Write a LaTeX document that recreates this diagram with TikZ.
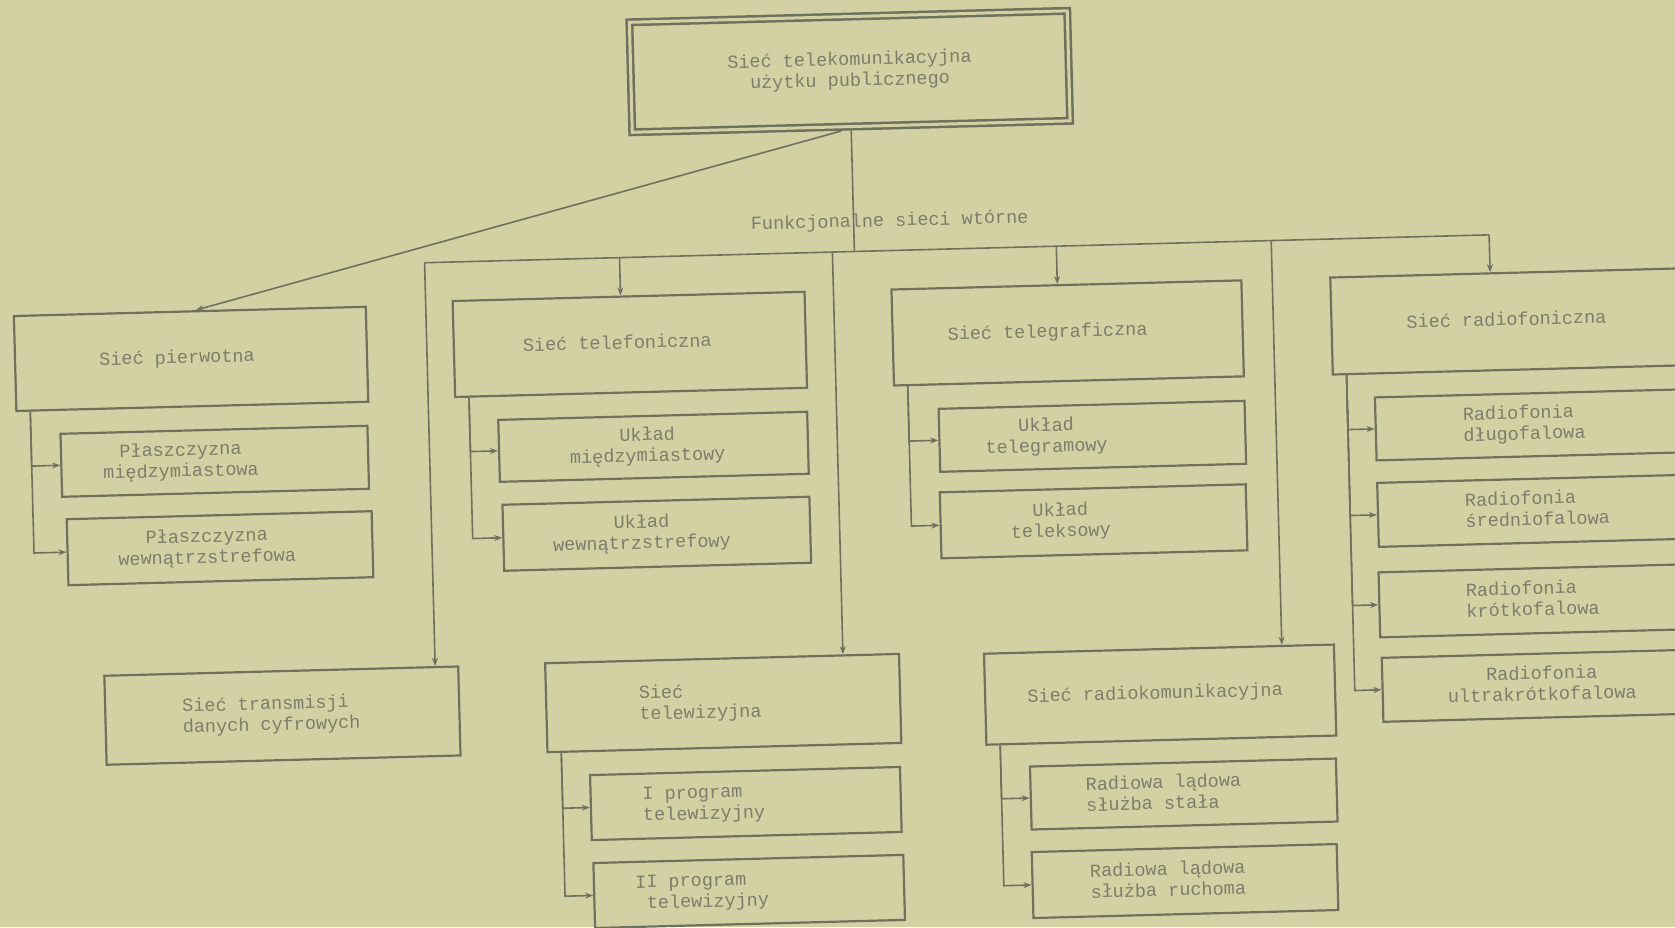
\documentclass[tikz,border=0pt]{standalone}
\usepackage{fontspec}
\usetikzlibrary{calc,arrows.meta}
\newfontfamily\monofont{Liberation Mono}
\newcommand\tx{\monofont\fontsize{18.5}{21}\selectfont}
\newcommand\TC[2]{\begin{tabular}{@{}c@{}}#2\end{tabular}\hspace*{#1}}
\newcommand\TL[2]{\begin{tabular}{@{}l@{}}#2\end{tabular}\hspace*{#1}}
\definecolor{bgcol}{RGB}{211,209,163}
\definecolor{linecol}{RGB}{112,112,95}
\definecolor{txtcol}{RGB}{125,125,106}
\newcommand\mytrunk[1]{%
  \coordinate (#1-t) at ($(#1.south west)!15pt!(#1.south east)$);
  \coordinate (#1-u) at ($(#1.north west)!15pt!(#1.north east)$);}
\newcommand\mybranch[2]{\draw[arr] (#1-t) -- ($(#1-u)!(#2.west)!(#1-t)$) -- (#2.west);}
\tikzset{
  box/.style={draw=linecol, line width=2.2pt, inner sep=0pt, font=\tx, text=txtcol},
  conn/.style={draw=linecol, line width=1.6pt},
  arr/.style={conn, -{Stealth[length=8pt,width=6pt]}},
  lab/.style={font=\tx, text=txtcol, inner sep=0pt},
}
\begin{document}
\begin{tikzpicture}[x=1pt,y=-1pt]
\useasboundingbox (0,0) rectangle (1675,927);
\fill[bgcol] (0,0) rectangle (1675,927);
\clip (0,0) rectangle (1675,927);
\begin{scope}[rotate around={1.5:(837.5,463.5)}, transform shape]
% top
\node[box, line width=2.5pt, double=bgcol, double distance=3pt, outer sep=4.25pt,
      minimum width=438pt, minimum height=110pt] (top) at (860,72)
  {\TC{0pt}{Sieć telekomunikacyjna\\użytku publicznego}};
\node[lab] (fun) at (896,223) {Funkcjonalne sieci wtórne};
% main row
\node[box, minimum width=352pt, minimum height=95pt] (pierw) at (194,342) {\TC{28pt}{Sieć pierwotna}};
\node[box, minimum width=307pt, minimum height=63pt] (p1) at (215,445) {\TC{68pt}{Płaszczyzna\\międzymiastowa}};
\node[box, minimum width=305pt, minimum height=66pt] (p2) at (218,532) {\TC{26pt}{Płaszczyzna\\wewnątrzstrefowa}};
\node[box, minimum width=352pt, minimum height=96pt] (telef) at (633,339) {\TC{25pt}{Sieć telefoniczna}};
\node[box, minimum width=309pt, minimum height=62pt] (u1) at (654,442) {\TC{12pt}{Układ\\międzymiastowy}};
\node[box, minimum width=307pt, minimum height=66pt] (u2) at (655,529) {\TC{30pt}{Układ\\wewnątrzstrefowy}};
\node[box, minimum width=350pt, minimum height=96pt] (telegr) at (1071,339) {\TC{40pt}{Sieć telegraficzna}};
\node[box, minimum width=306pt, minimum height=63pt] (g1) at (1093,443) {\TC{92pt}{Układ\\telegramowy}};
\node[box, minimum width=306pt, minimum height=66pt] (g2) at (1092,528) {\TC{66pt}{Układ\\teleksowy}};
\node[box, minimum width=350pt, minimum height=97pt] (radiof) at (1510,339) {\TC{0pt}{Sieć radiofoniczna}};
\node[box, minimum width=307pt, minimum height=63pt] (r1) at (1530,443) {\TL{10pt}{Radiofonia\\długofalowa}};
\node[box, minimum width=307pt, minimum height=64pt] (r2) at (1530,529) {\TL{-12pt}{Radiofonia\\średniofalowa}};
\node[box, minimum width=307pt, minimum height=65pt] (r3) at (1529,619) {\TL{0pt}{Radiofonia\\krótkofalowa}};
\node[box, minimum width=307pt, minimum height=64pt] (r4) at (1530,704) {\TC{-12pt}{Radiofonia\\ultrakrótkofalowa}};
% bottom row
\node[box, minimum width=354pt, minimum height=89pt] (trans) at (276,701) {\TL{22pt}{Sieć transmisji\\danych cyfrowych}};
\node[box, minimum width=354pt, minimum height=89pt] (telew) at (717,700) {\TL{46pt}{Sieć\\telewizyjna}};
\node[box, minimum width=310pt, minimum height=65pt] (tv1) at (737,801) {\TL{84pt}{I program\\telewizyjny}};
\node[box, minimum width=310pt, minimum height=65pt] (tv2) at (738,889) {\TL{94pt}{II program\\~telewizyjny}};
\node[box, minimum width=350pt, minimum height=91pt] (radiok) at (1154,703) {\TC{10pt}{Sieć radiokomunikacyjna}};
\node[box, minimum width=306pt, minimum height=63pt] (k1) at (1175,803) {\TL{40pt}{Radiowa lądowa\\służba stała}};
\node[box, minimum width=305pt, minimum height=66pt] (k2) at (1174,890) {\TL{34pt}{Radiowa lądowa\\służba ruchoma}};
% bus
\coordinate (b1) at (430,252);
\coordinate (b2) at (625,252);
\coordinate (b3) at (838,252);
\coordinate (bj) at (860,252);
\coordinate (b4) at (1062,252);
\coordinate (b5) at (1277,252);
\coordinate (b6) at (1495,252);
\draw[conn] (top.south) -- (bj);
\draw[conn] (b1) -- (b6);
\draw[arr] (b1) -- ($(trans.north west)!(b1)!(trans.north east)$);
\draw[arr] (b2) -- ($(telef.north west)!(b2)!(telef.north east)$);
\draw[arr] (b3) -- ($(telew.north west)!(b3)!(telew.north east)$);
\draw[arr] (b4) -- ($(telegr.north west)!(b4)!(telegr.north east)$);
\draw[arr] (b5) -- ($(radiok.north west)!(b5)!(radiok.north east)$);
\draw[arr] (b6) -- ($(radiof.north west)!(b6)!(radiof.north east)$);
\draw[arr] ($(top.south west)!213pt!(top.south east)$) -- ($(pierw.north west)!183pt!(pierw.north east)$);
% trunks
\mytrunk{pierw}\mytrunk{telef}\mytrunk{telegr}\mytrunk{radiof}\mytrunk{telew}\mytrunk{radiok}
\mybranch{pierw}{p1}\mybranch{pierw}{p2}
\mybranch{telef}{u1}\mybranch{telef}{u2}
\mybranch{telegr}{g1}\mybranch{telegr}{g2}
\mybranch{radiof}{r1}\mybranch{radiof}{r2}\mybranch{radiof}{r3}\mybranch{radiof}{r4}
\mybranch{telew}{tv1}\mybranch{telew}{tv2}
\mybranch{radiok}{k1}\mybranch{radiok}{k2}
\end{scope}
\end{tikzpicture}
\end{document}
